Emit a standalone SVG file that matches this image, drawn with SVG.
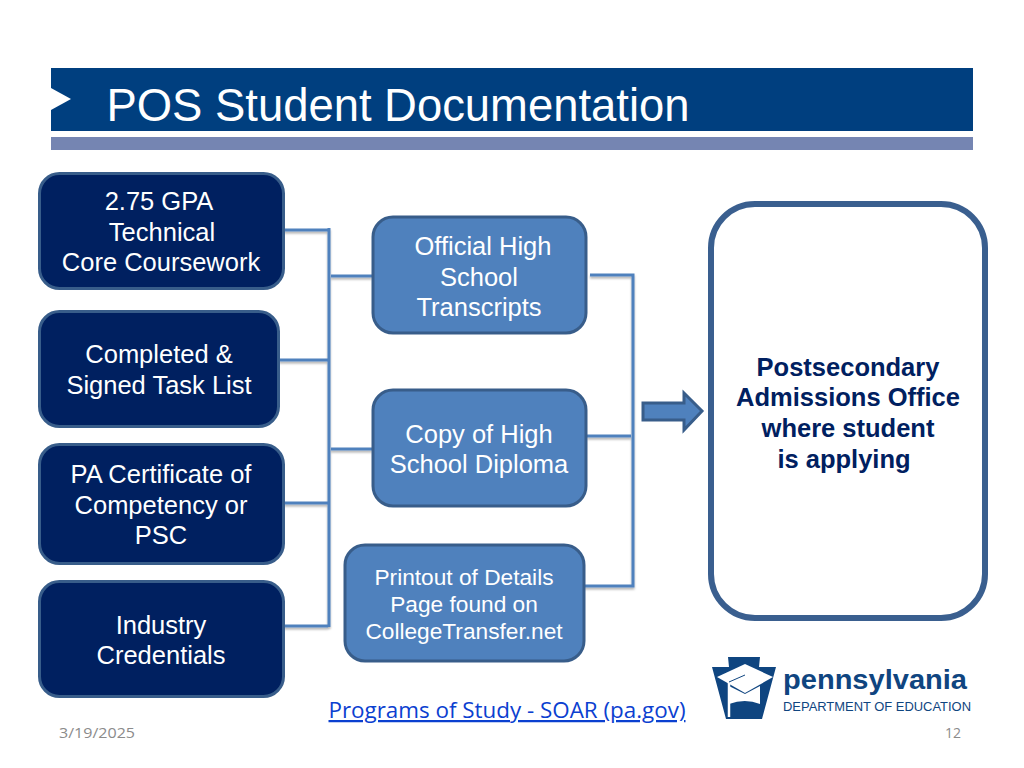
<svg xmlns="http://www.w3.org/2000/svg" width="1024" height="768" viewBox="0 0 1024 768">
<style>
text{font-family:"Liberation Sans",Arial,sans-serif;text-anchor:middle}
.dark{fill:#002060;stroke:#385d8a;stroke-width:3}
.mid{fill:#4f81bd;stroke:#385d8a;stroke-width:3}
.lbl{font-size:25.5px;fill:#fff}
.small{font-size:22.7px;fill:#fff}
.conn{fill:none;stroke:#4f81bd;stroke-width:3;filter:url(#sh)}
.foot{font-family:"Open Sans","Noto Sans",sans-serif;font-size:14px;fill:#8b8b8b}
</style>
<defs><filter id="sh" x="-20%" y="-20%" width="140%" height="140%"><feDropShadow dx="0" dy="2" stdDeviation="1.2" flood-color="#000" flood-opacity="0.3"/></filter></defs>
<rect width="1024" height="768" fill="#fff"/>
<g id="header">
<rect x="51" y="68" width="922" height="63" fill="#003f7f"/>
<rect x="51" y="137" width="922" height="13" fill="#7585b2"/>
<polygon points="51,88 71,99 51,110" fill="#fff"/>
<text x="398" y="121" font-size="46" fill="#fff" textLength="583" lengthAdjust="spacingAndGlyphs">POS Student Documentation</text>
</g>
<g id="connectors">
<path class="conn" d="M284 230H328M329 228V627M331 276H372M279 360H328M331 449H372M284 503H328M284 626H328"/>
<path class="conn" d="M590 275H633V586H584M587 436H631"/>
</g>
<g id="n1"><rect class="dark" x="39.500" y="173.500" width="244" height="115" rx="20"/><text class="lbl" x="159" y="210">2.75 GPA</text><text class="lbl" x="162" y="241">Technical</text><text class="lbl" x="161" y="271">Core Coursework</text></g>
<g id="n2"><rect class="dark" x="39.500" y="311.500" width="239" height="115" rx="20"/><text class="lbl" x="159" y="363">Completed &amp;</text><text class="lbl" x="159" y="394">Signed Task List</text></g>
<g id="n3"><rect class="dark" x="39.500" y="444.500" width="244" height="119" rx="20"/><text class="lbl" x="161" y="483">PA Certificate of</text><text class="lbl" x="161" y="514">Competency or</text><text class="lbl" x="161" y="544">PSC</text></g>
<g id="n4"><rect class="dark" x="39.500" y="581.500" width="244" height="115" rx="20"/><text class="lbl" x="161" y="634">Industry</text><text class="lbl" x="161" y="664">Credentials</text></g>
<g id="n5"><rect class="mid" x="373" y="217" width="213" height="116" rx="20"/><text class="lbl" x="483" y="255">Official High</text><text class="lbl" x="479" y="286">School</text><text class="lbl" x="479" y="316">Transcripts</text></g>
<g id="n6"><rect class="mid" x="373" y="390" width="213" height="116" rx="20"/><text class="lbl" x="479" y="443">Copy of High</text><text class="lbl" x="479" y="473">School Diploma</text></g>
<g id="n7"><rect class="mid" x="345" y="545" width="239" height="116" rx="20"/><text class="small" x="464" y="585">Printout of Details</text><text class="small" x="464" y="612">Page found on</text><text class="small" x="464" y="639">CollegeTransfer.net</text></g>
<g id="arrow"><polygon points="643,403 684,403 684,393 702,411 684,430 684,420 643,420" fill="#4f81bd" stroke="#385d8a" stroke-width="3"/></g>
<g id="n8"><rect x="711" y="204" width="274" height="414" rx="44" fill="#fff" stroke="#3a5f8f" stroke-width="6"/>
<g font-size="25.5" font-weight="700" fill="#002060"><text x="848" y="376">Postsecondary</text><text x="848" y="406">Admissions Office</text><text x="848" y="437">where student</text><text x="844" y="468">is applying</text></g></g>
<g id="link"><text x="507" y="718" font-size="22.5" fill="#0b40d0" text-decoration="underline" textLength="357" lengthAdjust="spacingAndGlyphs" style="font-family:'Open Sans','Noto Sans',sans-serif">Programs of Study - SOAR (pa.gov)</text></g>
<g id="footer"><text class="foot" x="97" y="738" textLength="76" lengthAdjust="spacingAndGlyphs">3/19/2025</text><text class="foot" x="953" y="738">12</text></g>
<g id="logo">
<polygon points="728,657 760,657 759,667 776,667 762,719 726,719 712,667 729,667" fill="#0f4580"/>
<polygon points="717,677 745,664 773,677 745,693" fill="#fff"/>
<path d="M729 686V704Q745 698 760 704V686L745 694Z" fill="#fff"/>
<path d="M729 682V717" stroke="#fff" stroke-width="2.500"/>
<path d="M729 682L745 675" stroke="#0f4580" stroke-width="1" fill="none"/>
<text x="875" y="689" font-size="28" font-weight="700" fill="#0f4580" textLength="184" lengthAdjust="spacingAndGlyphs">pennsylvania</text>
<text x="877" y="711" font-size="13" fill="#0f4580" textLength="188" lengthAdjust="spacingAndGlyphs">DEPARTMENT OF EDUCATION</text>
</g>
</svg>
